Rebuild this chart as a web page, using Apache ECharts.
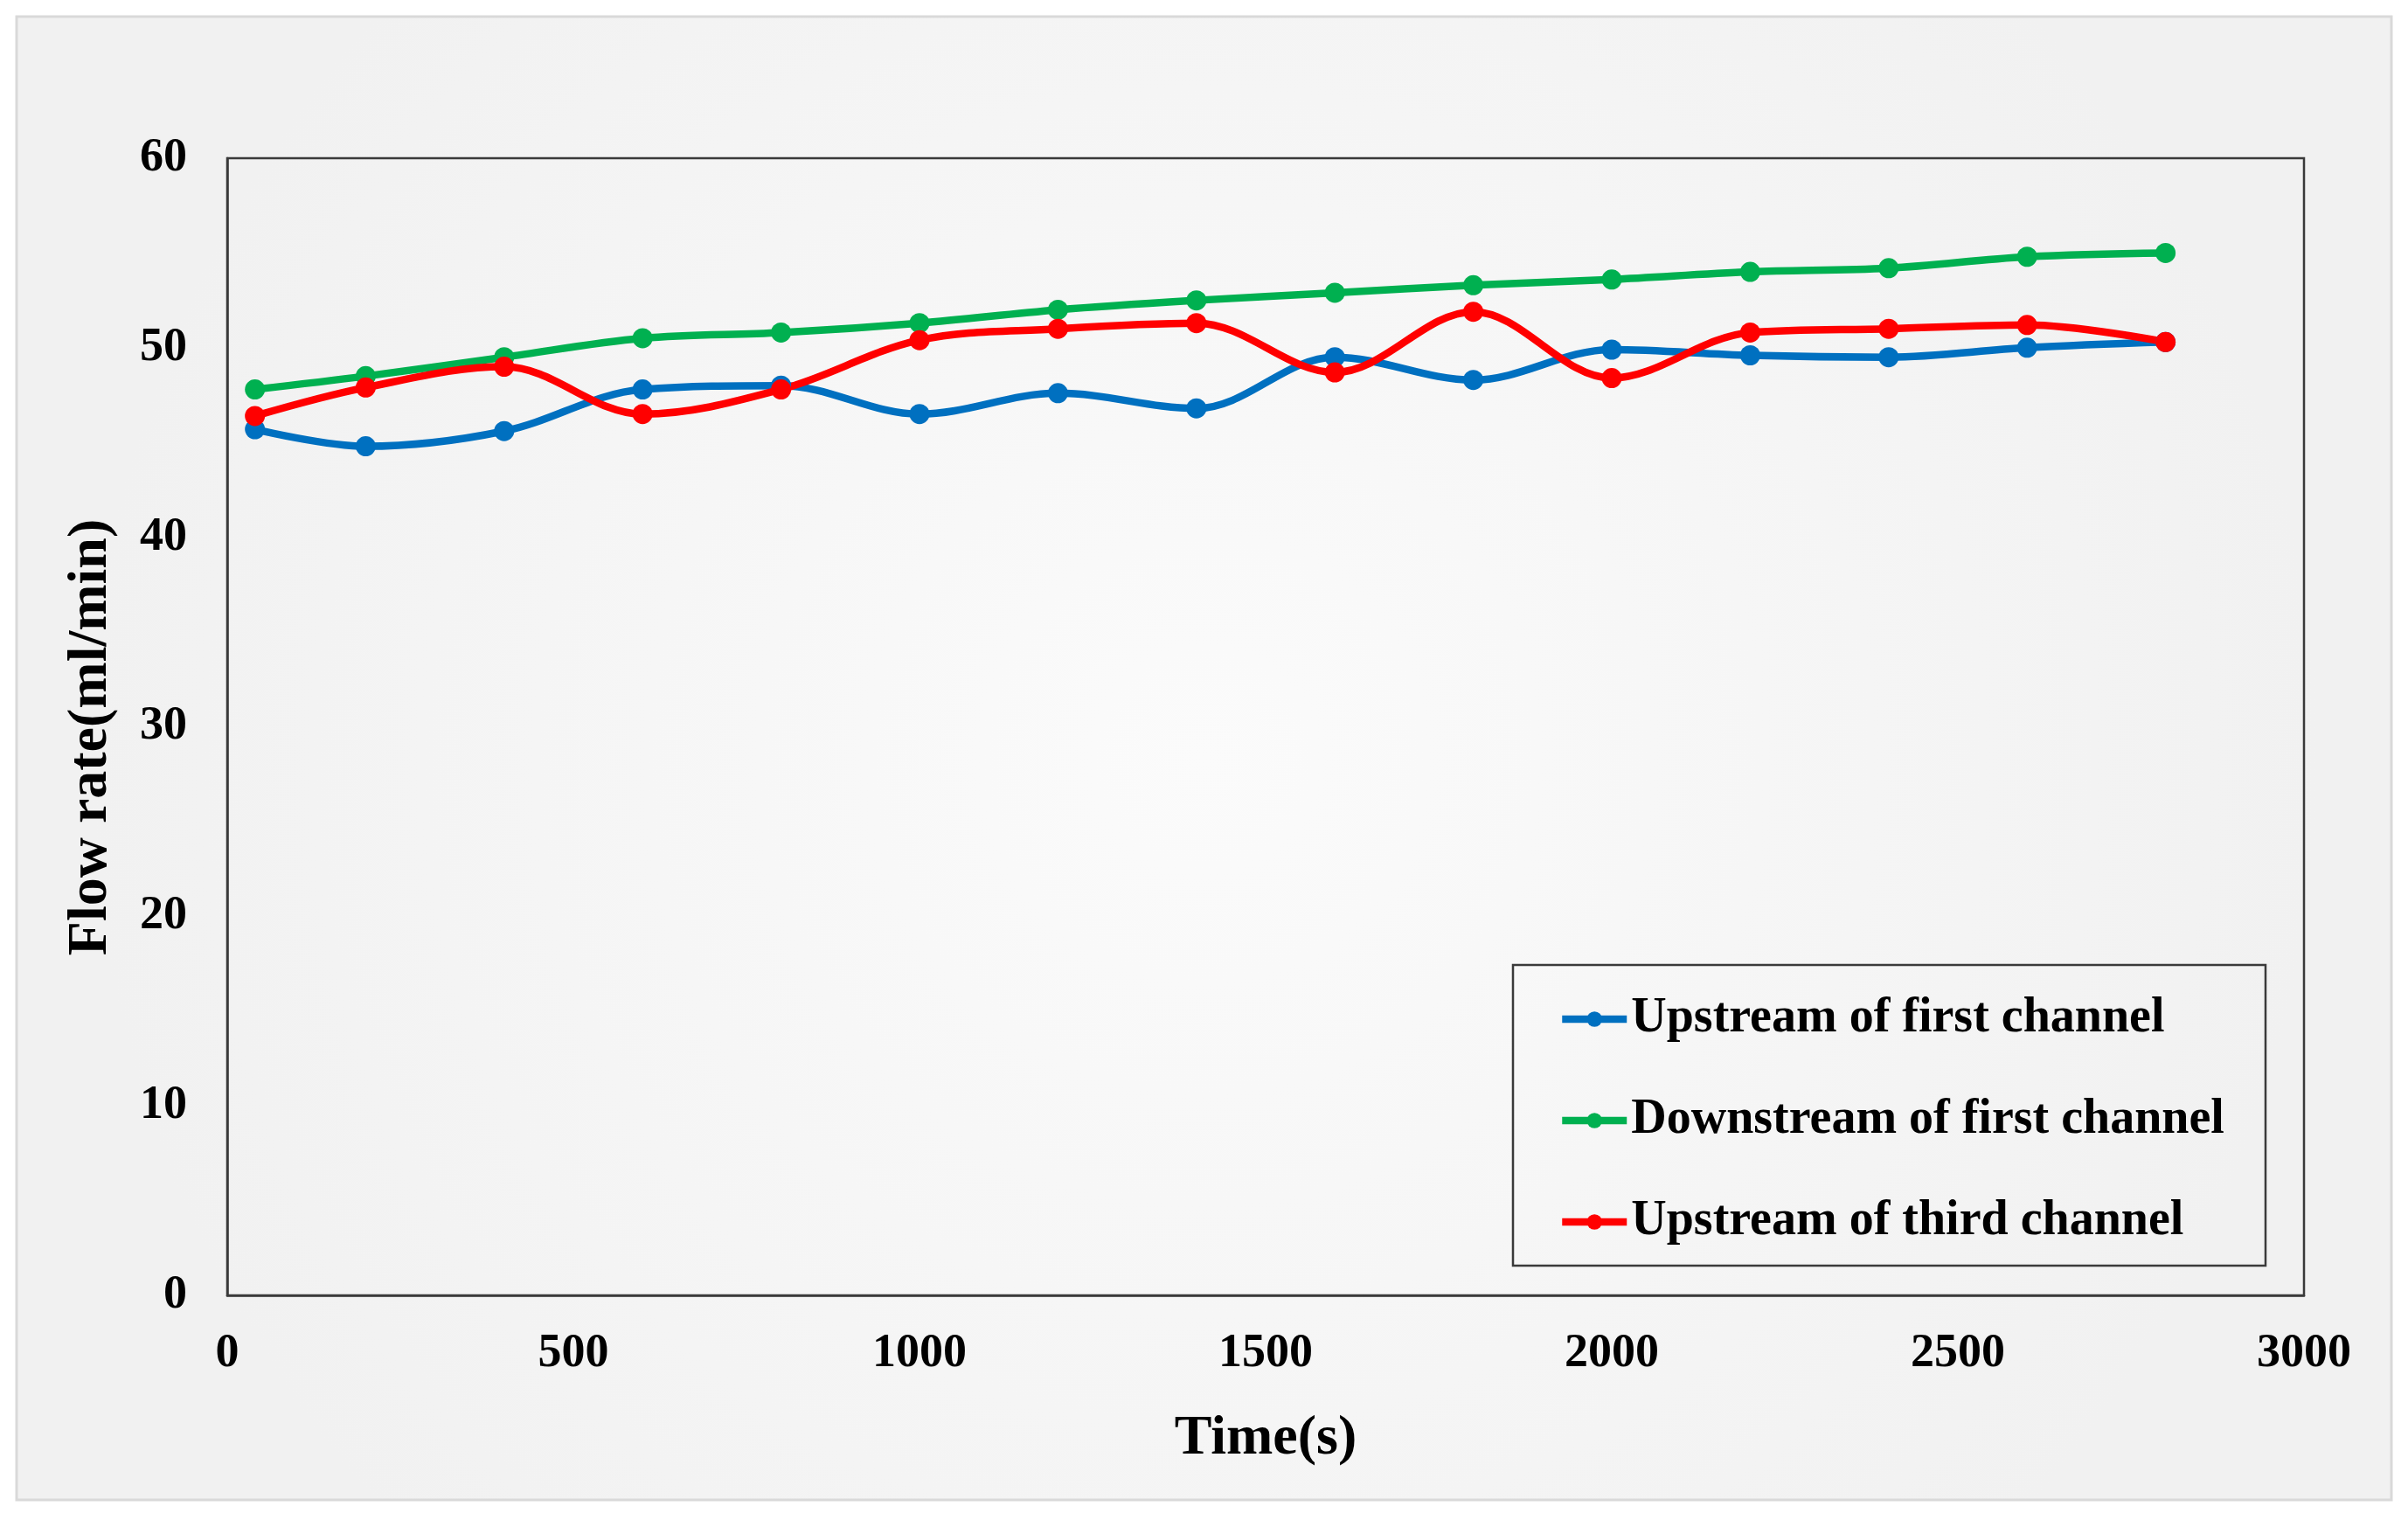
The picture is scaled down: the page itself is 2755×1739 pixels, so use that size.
<!DOCTYPE html>
<html>
<head>
<meta charset="utf-8">
<script src="https://cdn.jsdelivr.net/npm/echarts@6/dist/echarts.min.js"></script>
<style>
html,body{margin:0;padding:0;background:#ffffff;}
#chart{width:2755px;height:1739px;}
</style>
</head>
<body>
<div id="chart"></div>
<script>
const times = [40, 200, 400, 600, 800, 1000, 1200, 1400, 1600, 1800, 2000, 2200, 2400, 2600, 2800];
const upstreamFirst = [45.7, 44.8, 45.6, 47.8, 48.0, 46.5, 47.6, 46.8, 49.5, 48.3, 49.9, 49.6, 49.5, 50.0, 50.3];
const downstreamFirst = [47.8, 48.5, 49.5, 50.5, 50.8, 51.3, 52.0, 52.5, 52.9, 53.3, 53.6, 54.0, 54.2, 54.8, 55.0];
const upstreamThird = [46.4, 47.9, 49.0, 46.5, 47.8, 50.4, 51.0, 51.3, 48.7, 51.9, 48.4, 50.8, 51.0, 51.2, 50.3];
const seriesNames = ['Upstream of first channel', 'Downstream of first channel', 'Upstream of third channel'];
const seriesColors = ['#0070C0', '#00B050', '#FF0000'];
const xTicks = {min: 0, max: 3000, interval: 500};
const yTicks = {min: 0, max: 60, interval: 10};

const font = '"Liberation Serif", "Times New Roman", serif';
const chart = echarts.init(document.getElementById('chart'), null, {renderer: 'canvas'});

function mk(name, vals, color) {
  return {
    name: name,
    type: 'line',
    data: times.map((t, i) => [t, vals[i]]),
    smooth: 0.35,
    symbol: 'circle',
    symbolSize: 23,
    lineStyle: {color: color, width: 8.5},
    itemStyle: {color: color},
    emphasis: {disabled: true}
  };
}

chart.setOption({
  animation: false,
  backgroundColor: '#ffffff',
  graphic: [
    {
      type: 'rect', z: -10, silent: true,
      shape: {x: 19, y: 19, width: 2717, height: 1697},
      style: {
        fill: {
          type: 'radial', x: 0.5, y: 0.5, r: 0.75,
          colorStops: [{offset: 0, color: '#fbfbfb'}, {offset: 1, color: '#f1f1f1'}]
        },
        stroke: '#d9d9d9', lineWidth: 3
      }
    },
    {
      type: 'rect', z: 5, silent: true,
      shape: {x: 1731, y: 1104, width: 861, height: 344},
      style: {fill: 'rgba(248,248,248,0.0)', stroke: '#3a3a3a', lineWidth: 2.5}
    }
  ],
  grid: {
    left: 260, top: 181, right: 119, bottom: 257,
    show: true, borderColor: '#3a3a3a', borderWidth: 2.5,
    backgroundColor: 'transparent'
  },
  legend: {
    orient: 'vertical',
    left: 1783, top: 1138,
    itemWidth: 74, itemHeight: 22, itemGap: 60,
    padding: 0,
    lineStyle: {width: 8.5},
    textStyle: {fontFamily: font, fontWeight: 'bold', fontSize: 56, color: '#000'},
    data: seriesNames
  },
  xAxis: {
    type: 'value',
    min: xTicks.min, max: xTicks.max, interval: xTicks.interval,
    name: 'Time(s)', nameLocation: 'middle', nameGap: 132,
    nameTextStyle: {fontFamily: font, fontWeight: 'bold', fontSize: 64, color: '#000'},
    axisLine: {show: true, lineStyle: {color: '#3a3a3a', width: 2.5}},
    axisTick: {show: false},
    splitLine: {show: false},
    axisLabel: {fontFamily: font, fontWeight: 'bold', fontSize: 54, color: '#000', margin: 40,
      formatter: v => String(v)}
  },
  yAxis: {
    type: 'value',
    min: yTicks.min, max: yTicks.max, interval: yTicks.interval,
    name: 'Flow rate(ml/min)', nameLocation: 'middle', nameGap: 124,
    nameTextStyle: {fontFamily: font, fontWeight: 'bold', fontSize: 64, color: '#000', padding: [0, 24, 0, 0]},
    axisLine: {show: true, lineStyle: {color: '#3a3a3a', width: 2.5}},
    axisTick: {show: false},
    splitLine: {show: false},
    axisLabel: {fontFamily: font, fontWeight: 'bold', fontSize: 54, color: '#000', margin: 46,
      formatter: v => String(v)}
  },
  series: [
    mk(seriesNames[0], upstreamFirst, seriesColors[0]),
    mk(seriesNames[1], downstreamFirst, seriesColors[1]),
    mk(seriesNames[2], upstreamThird, seriesColors[2])
  ]
});
</script>
</body>
</html>
